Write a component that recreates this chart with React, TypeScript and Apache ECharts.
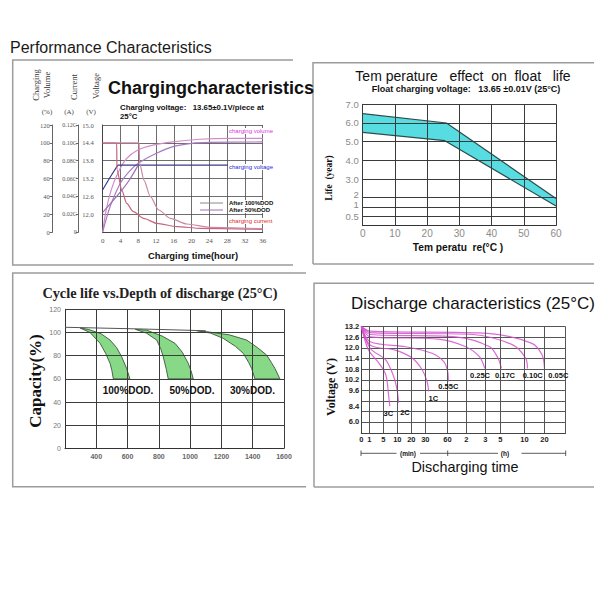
import React, { useEffect, useRef } from 'react';
import * as echarts from 'echarts';

// ================= Panel 1: Charging characteristics =================
// [hour, value]
const CHG_VOLUME_A = [[0, 0], [0.75, 24], [1.9, 47], [3.4, 66], [5.3, 82], [7.9, 92], [11.3, 97.5], [15.8, 101], [21.8, 104], [29, 105], [36, 105]];
const CHG_VOLUME_B = [[0, 0], [1, 18], [2, 33], [4, 55], [6, 68], [8, 77], [12, 88], [16, 96], [20, 99.5], [24, 100.5], [36, 101]];
const CHG_VOLTAGE_50 = [[0, 12.82], [1.7, 13.25], [3.4, 13.65], [36, 13.65]];
const CHG_VOLTAGE_100 = [[0, 12.06], [2, 12.4], [4, 12.75], [6, 13.15], [8, 13.65]];
const CHG_CURRENT_50 = [[0, 0.1], [3.15, 0.1], [3.2, 0.07], [4.3, 0.047], [5.4, 0.032], [6.9, 0.0228], [9.2, 0.0153], [12.2, 0.0097], [16.7, 0.006], [22, 0.0041], [36, 0.003]];
const CHG_CURRENT_100 = [[0, 0.1], [8.2, 0.1], [8.3, 0.077], [9.3, 0.058], [10.7, 0.04], [12.6, 0.0247], [15.2, 0.0153], [18.9, 0.009], [24.2, 0.0052], [36, 0.0037]];

// ================= Panel 2: Temperature effect on float life =================
// [temperature °C, life years]
const LIFE_UPPER = [[0, 6.5], [26, 6.0], [60, 1.9]];
const LIFE_LOWER = [[0, 5.5], [25.5, 5.05], [60, 1.1]];
const LIFE_TICKS = [0, 0.5, 1, 2, 3, 4, 5, 6, 7];
const LIFE_POS = [0, 1, 2, 3, 5, 7, 9, 11, 13];
const LIFE_GRID_POS = [1, 2, 3, 5, 7, 9, 11, 13];
const LIFE_LABEL_POS = [0.96, 2.29, 3.36, 5, 7, 9, 11, 13];
const LIFE_LABELS = ['0.5', '1', '2', '3.0', '4.0', '5.0', '6.0', '7.0'];
const TEMP_GRID = [0, 10, 20, 30, 40, 50, 60];

// ================= Panel 3: Cycle life vs depth of discharge =================
// [cycles, capacity %]
const CYCLE_TOP = [[200, 104.5], [700, 103], [1100, 101.5]];
const BAND100_LEFT = [[296, 103.9], [360, 100], [424, 90.7], [460, 82], [488, 73.4], [500, 67], [509, 60]];
const BAND100_RIGHT = [[349, 102.7], [430, 99], [488, 93.5], [530, 87], [562, 79.1], [594, 69], [615, 60]];
const BAND50_LEFT = [[650, 102.7], [720, 99.5], [786, 93.5], [812, 86], [828, 79.1], [848, 68], [860, 60]];
const BAND50_RIGHT = [[722, 102], [820, 97], [903, 90.7], [950, 83], [988, 73.4], [1008, 66], [1020, 60]];
const BAND30_LEFT = [[1041, 101.6], [1130, 99.5], [1211, 95], [1290, 88], [1339, 82.1], [1375, 74], [1393, 69], [1414, 60]];
const BAND30_RIGHT = [[1105, 100.7], [1250, 98], [1361, 93.5], [1430, 87], [1489, 80.6], [1520, 74], [1542, 69], [1574, 60]];
const CYCLE_X_GRID = [400, 600, 800, 1000, 1200, 1400, 1600];
const CAP_Y_GRID = [20, 40, 60, 80, 100, 120];

// ================= Panel 4: Discharge characteristics =================
// [minutes, volts]
const DIS_3C = [[0, 13.2], [0.9, 11.87], [3.8, 11.12], [5.9, 10.47], [7.0, 9.05], [7.3, 8.45]];
const DIS_2C = [[0, 13.2], [1.3, 11.96], [5.9, 11.31], [8.7, 10.38], [9.9, 9.63], [10.9, 8.7]];
const DIS_1C = [[0, 13.2], [1.3, 12.15], [9.3, 11.87], [21, 11.4], [27.8, 10.75], [32.3, 10.1], [34.5, 9.53]];
const DIS_055C = [[0, 13.2], [1.3, 12.34], [16, 12.06], [39, 11.69], [55, 11.22], [61, 10.66], [63, 10.1]];
const DIS_025C = [[0, 13.2], [1.3, 12.62], [48, 12.49], [118, 12.06], [161, 11.5], [178, 10.84]];
const DIS_017C = [[0, 13.2], [1.3, 12.75], [86, 12.62], [214, 12.06], [282, 11.4], [312, 10.84]];
const DIS_010C = [[0, 13.2], [1.3, 12.86], [140, 12.75], [459, 12.15], [640, 11.4], [690, 10.84]];
const DIS_005C = [[0, 13.2], [1.3, 12.94], [200, 12.81], [822, 12.25], [1131, 11.59], [1200, 10.84]];
const TIME_TICKS = [0, 1, 5, 10, 20, 30, 60, 120, 180, 300, 600, 1200, 2400];
const TIME_POS = [0, 8, 22, 36, 50, 64, 86, 105, 124, 139, 163, 183, 204];
const TIME_LABELS = ['0', '1', '5', '10', '20', '30', '60', '2', '3', '5', '10', '20'];
const VOLT_TICKS = [6.0, 8.4, 9.6, 10.2, 10.8, 11.4, 12.0, 12.6, 13.2];
const VOLT_POS = [1.1, 2.45, 4, 5, 6, 7, 8, 9, 10];

const SERIF = '"Liberation Serif", "DejaVu Serif", serif';
const SANS = '"Liberation Sans", Arial, sans-serif';

function interp(v: number, xs: number[], ys: number[]) {
  const n = xs.length;
  let i = 1;
  while (i < n - 1 && v > xs[i]) i++;
  return ys[i - 1] + ((v - xs[i - 1]) * (ys[i] - ys[i - 1])) / (xs[i] - xs[i - 1]);
}
const lifePos = (v: number) => interp(v, LIFE_TICKS, LIFE_POS);
const timePos = (v: number) => interp(v, TIME_TICKS, TIME_POS);
const voltPos = (v: number) => interp(v, VOLT_TICKS, VOLT_POS);

function T(x: number, y: number, text: string, o: any = {}) {
  const style: any = {
    text,
    fontSize: o.size || 10,
    fontFamily: o.family || SANS,
    fontWeight: o.weight || 'normal',
    fill: o.color || '#111',
    align: o.align || 'center',
    verticalAlign: 'middle',
  };
  if (o.bg) {
    style.backgroundColor = o.bg;
    style.padding = [0, 1];
  }
  return { type: 'text', x, y, rotation: o.rotation || 0, z: 100, style };
}
function L(points: number[][], color = '#9c9c9c', width = 1.5) {
  return { type: 'polyline', z: 100, shape: { points }, style: { stroke: color, lineWidth: width, fill: null } };
}

function lineSeries(name: string, xi: number, yi: number, data: number[][], color: string, extra: any = {}) {
  return {
    name,
    type: 'line',
    xAxisIndex: xi,
    yAxisIndex: yi,
    data,
    symbol: 'none',
    showSymbol: false,
    lineStyle: { color, width: 1.2 },
    itemStyle: { color },
    z: 3,
    ...extra,
  };
}

function gridMark(data: any[], color: string, width = 1) {
  return {
    symbol: ['none', 'none'],
    silent: true,
    label: { show: false },
    emphasis: { disabled: true },
    lineStyle: { color, width, type: 'solid' },
    data,
  };
}

function bandsSeries(xi: number, yi: number, bands: { a: number[][]; b: number[][] }[], mapY: (v: number) => number, fill: string, stroke: string) {
  return {
    type: 'custom',
    xAxisIndex: xi,
    yAxisIndex: yi,
    z: 1,
    silent: true,
    data: [[bands[0].a[0][0], mapY(bands[0].a[0][1])]],
    renderItem: (params: any, api: any) => {
      if (params.dataIndex !== 0) return null;
      const children = bands.map((bd) => {
        const pts = [
          ...bd.a.map((p) => api.coord([p[0], mapY(p[1])])),
          ...bd.b.slice().reverse().map((p) => api.coord([p[0], mapY(p[1])])),
        ];
        return { type: 'polygon', shape: { points: pts }, style: { fill, stroke, lineWidth: 0.9 } };
      });
      return { type: 'group', children };
    },
  };
}

export default function App() {
  const ref = useRef<HTMLDivElement>(null);
  useEffect(() => {
    if (!ref.current) return;
    const chart = echarts.init(ref.current, undefined, { renderer: 'svg' });

    const mapP4 = (arr: number[][]) => arr.map(([t, v]) => [timePos(t), voltPos(v)]);
    const p4Color = 'rgba(214,80,206,0.85)';

    const option: any = {
      animation: false,
      grid: [
        { left: 102.7, top: 125, width: 160, height: 107, outerBoundsMode: 'none' },
        { left: 362.7, top: 104.3, width: 193.3, height: 121.4, outerBoundsMode: 'none' },
        { left: 65, top: 309.3, width: 219, height: 139.2, outerBoundsMode: 'none' },
        { left: 361.3, top: 326.5, width: 204.2, height: 106.5, outerBoundsMode: 'none' },
      ],
      xAxis: [
        {
          gridIndex: 0, type: 'value', min: 0, max: 36, interval: 4,
          axisLine: { lineStyle: { color: '#444' } }, axisTick: { show: false },
          axisLabel: { fontSize: 7, fontFamily: SERIF, color: '#555', margin: 5 },
          splitLine: { show: true, lineStyle: { color: '#4a4a4a', width: 0.8 } },
        },
        {
          gridIndex: 1, type: 'value', min: 0, max: 60, interval: 10,
          axisLine: { lineStyle: { color: '#333' } }, axisTick: { show: false },
          axisLabel: { fontSize: 10, fontFamily: SANS, color: '#8a8a8a', margin: 3 },
          splitLine: { show: false },
        },
        {
          gridIndex: 2, type: 'value', min: 200, max: 1600, interval: 200,
          axisLine: { lineStyle: { color: '#333' } }, axisTick: { show: false },
          axisLabel: { fontSize: 7, fontFamily: SANS, fontWeight: 'bold', color: '#666', margin: 4, formatter: (v: number) => (v === 200 ? '' : String(v)) },
          splitLine: { show: false },
        },
        {
          gridIndex: 3, type: 'value', min: 0, max: 204,
          axisLine: { lineStyle: { color: '#444' } }, axisTick: { show: false },
          axisLabel: {
            fontSize: 7.5, fontFamily: SANS, fontWeight: 'bold', color: '#222', margin: 2,
            customValues: TIME_POS.slice(0, 12),
            formatter: (v: number) => {
              const i = TIME_POS.indexOf(v);
              return i >= 0 && i < TIME_LABELS.length ? TIME_LABELS[i] : '';
            },
          },
          splitLine: { show: false },
        },
      ],
      yAxis: [
        {
          gridIndex: 0, type: 'value', position: 'left', offset: 0, min: 11.4, max: 15, interval: 0.6,
          axisLine: { show: true, lineStyle: { color: '#444' } }, axisTick: { show: false },
          axisLabel: { fontSize: 6.5, fontFamily: SERIF, color: '#555', margin: 9, formatter: (v: number) => (Math.abs(v - 11.4) < 0.01 ? '' : v.toFixed(1)) },
          splitLine: { show: false },
        },
        {
          gridIndex: 0, type: 'value', position: 'left', offset: 24, min: 0, max: 0.12, interval: 0.02,
          axisLine: { show: true, lineStyle: { color: '#666' } }, axisTick: { show: true, length: 3, lineStyle: { color: '#666' } },
          axisLabel: { fontSize: 6, fontFamily: SERIF, color: '#555', margin: 2, formatter: (v: number) => (v === 0 ? '0' : v.toFixed(2) + 'C') },
          splitLine: { show: false },
        },
        {
          gridIndex: 0, type: 'value', position: 'left', offset: 50, min: 0, max: 120, interval: 20,
          axisLine: { show: true, lineStyle: { color: '#666' } }, axisTick: { show: true, length: 3, lineStyle: { color: '#666' } },
          axisLabel: { fontSize: 6.5, fontFamily: SERIF, color: '#555', margin: 3 },
          splitLine: { show: true, lineStyle: { color: '#4a4a4a', width: 0.8 } },
        },
        {
          gridIndex: 1, type: 'value', min: 0, max: 13,
          axisLine: { show: true, lineStyle: { color: '#333' } }, axisTick: { show: false },
          axisLabel: {
            fontSize: 9.5, fontFamily: SANS, color: '#8a8a8a', margin: 4,
            customValues: LIFE_LABEL_POS,
            formatter: (v: number) => {
              const i = LIFE_LABEL_POS.findIndex((p) => Math.abs(p - v) < 1e-6);
              return i >= 0 ? LIFE_LABELS[i] : '';
            },
          },
          splitLine: { show: false },
        },
        {
          gridIndex: 2, type: 'value', min: 0, max: 120, interval: 20,
          axisLine: { show: true, lineStyle: { color: '#333' } }, axisTick: { show: false },
          axisLabel: { fontSize: 7, fontFamily: SANS, color: '#777', margin: 4 },
          splitLine: { show: false },
        },
        {
          gridIndex: 3, type: 'value', min: 0, max: 10, interval: 1,
          axisLine: { show: true, lineStyle: { color: '#444' } }, axisTick: { show: false },
          axisLabel: {
            fontSize: 7.5, fontFamily: SANS, fontWeight: 'bold', color: '#222', margin: 2,
            customValues: VOLT_POS.slice().reverse(),
            formatter: (v: number) => {
              const i = VOLT_POS.findIndex((p) => Math.abs(p - v) < 1e-6);
              return i >= 0 ? VOLT_TICKS[i].toFixed(1) : '';
            },
          },
          splitLine: { show: true, lineStyle: { color: '#555', width: 1 } },
        },
      ],
      series: [
        // Panel 1
        lineSeries('Charging volume A', 0, 2, CHG_VOLUME_A, '#d58bc8', { smooth: 0.3 }),
        lineSeries('Charging volume B', 0, 2, CHG_VOLUME_B, '#a67cc0', { smooth: 0.3 }),
        lineSeries('Charging voltage 50', 0, 0, CHG_VOLTAGE_50, '#3a3a8c'),
        lineSeries('Charging voltage 100', 0, 0, CHG_VOLTAGE_100, '#9b70b4', { smooth: 0.2 }),
        lineSeries('Charging current 50', 0, 1, CHG_CURRENT_50, '#c8647e', { smooth: 0.25, smoothMonotone: 'x' }),
        lineSeries('Charging current 100', 0, 1, CHG_CURRENT_100, '#cc8aa2', { smooth: 0.25, smoothMonotone: 'x' }),
        // Panel 2
        bandsSeries(1, 3, [{ a: LIFE_UPPER, b: LIFE_LOWER }], lifePos, '#57dde1', 'rgba(0,0,0,0)'),
        lineSeries('Life upper', 1, 3, LIFE_UPPER.map(([t, v]) => [t, lifePos(v)]), '#2e4c4c', {
          markLine: gridMark([
            ...LIFE_GRID_POS.map((p) => ({ yAxis: p })),
            ...TEMP_GRID.map((t) => ({ xAxis: t })),
          ], '#3a3a3a', 1),
        }),
        lineSeries('Life lower', 1, 3, LIFE_LOWER.map(([t, v]) => [t, lifePos(v)]), '#2e4c4c'),
        // Panel 3
        bandsSeries(2, 4, [
          { a: BAND100_LEFT, b: BAND100_RIGHT },
          { a: BAND50_LEFT, b: BAND50_RIGHT },
          { a: BAND30_LEFT, b: BAND30_RIGHT },
        ], (v) => v, '#87d987', '#3a553a'),
        lineSeries('Cycle top', 2, 4, CYCLE_TOP, '#555', {
          lineStyle: { color: '#555', width: 1 },
          markLine: gridMark([
            ...CAP_Y_GRID.map((p) => ({ yAxis: p })),
            ...CYCLE_X_GRID.map((c) => ({ xAxis: c })),
          ], '#3c3c3c', 1),
        }),
        // Panel 4
        lineSeries('3C', 3, 5, mapP4(DIS_3C), p4Color, {
          smooth: 0.3,
          markLine: gridMark(TIME_POS.slice(1).map((p) => ({ xAxis: p })), '#555', 1),
        }),
        lineSeries('2C', 3, 5, mapP4(DIS_2C), p4Color, { smooth: 0.3 }),
        lineSeries('1C', 3, 5, mapP4(DIS_1C), p4Color, { smooth: 0.3 }),
        lineSeries('0.55C', 3, 5, mapP4(DIS_055C), p4Color, { smooth: 0.3 }),
        lineSeries('0.25C', 3, 5, mapP4(DIS_025C), p4Color, { smooth: 0.3 }),
        lineSeries('0.17C', 3, 5, mapP4(DIS_017C), p4Color, { smooth: 0.3 }),
        lineSeries('0.10C', 3, 5, mapP4(DIS_010C), p4Color, { smooth: 0.3 }),
        lineSeries('0.05C', 3, 5, mapP4(DIS_005C), p4Color, { smooth: 0.3 }),
      ],
      graphic: [
        // frames
        L([[293, 60], [12.7, 60], [12.7, 265], [293, 265]]),
        L([[313, 264], [313, 62.7], [594, 62.7]]),
        L([[313, 264], [594, 264]]),
        L([[306, 273], [12.7, 273], [12.7, 486.7], [306, 486.7]]),
        L([[314, 487], [314, 283.3], [594, 283.3]]),
        L([[314, 487], [594, 487]]),

        T(10, 47, 'Performance Characteristics', { size: 16, align: 'left', color: '#1a1a1a' }),

        // Panel 1
        T(108, 88, 'Chargingcharacteristics', { size: 18, weight: 'bold', align: 'left' }),
        T(120, 107, 'Charging voltage:   13.65±0.1V/piece at', { size: 7.8, weight: 'bold', align: 'left' }),
        T(120, 116, '25°C', { size: 7.8, weight: 'bold', align: 'left' }),
        T(36, 85, 'Charging', { size: 8.5, family: SERIF, color: '#333', rotation: Math.PI / 2 }),
        T(47, 85, 'Volume', { size: 8.5, family: SERIF, color: '#333', rotation: Math.PI / 2 }),
        T(74, 87, 'Current', { size: 8.5, family: SERIF, color: '#333', rotation: Math.PI / 2 }),
        T(96, 86, 'Voltage', { size: 8.5, family: SERIF, color: '#333', rotation: Math.PI / 2 }),
        T(47, 111.5, '(%)', { size: 7, family: SERIF, color: '#444' }),
        T(69, 111.5, '(A)', { size: 7, family: SERIF, color: '#444' }),
        T(91, 111.5, '(V)', { size: 7, family: SERIF, color: '#444' }),
        T(193, 255, 'Charging time(hour)', { size: 9.4, weight: 'bold' }),
        T(228, 131, 'charging volume', { size: 6, color: '#e030e0', align: 'left', bg: '#fff' }),
        T(228, 167, 'charging voltage', { size: 6, color: '#2a2ad8', align: 'left', bg: '#fff' }),
        L([[200, 203], [223, 203]], '#8a8a8a', 1),
        L([[200, 210], [223, 210]], '#a070b0', 1),
        T(228, 203, 'After 100%DOD', { size: 6, weight: 'bold', align: 'left', bg: '#fff' }),
        T(228, 210, 'After 50%DOD', { size: 6, weight: 'bold', align: 'left', bg: '#fff' }),
        T(228, 221, 'charging current', { size: 6, color: '#e02a2a', align: 'left', bg: '#fff' }),

        // Panel 2
        T(463, 76, 'Tem perature   effect  on  float   life', { size: 14, color: '#111' }),
        T(466, 89, 'Float charging voltage:   13.65 ±0.01V (25°C)', { size: 9, weight: 'bold' }),
        T(329, 178, 'Life  (year)', { size: 9.5, weight: 'bold', family: SERIF, rotation: Math.PI / 2 }),
        T(458, 247, 'Tem peratu  re(°C )', { size: 10.2, weight: 'bold' }),

        // Panel 3
        T(160, 293, 'Cycle life vs.Depth of discharge (25°C)', { size: 14.3, weight: 'bold', family: SERIF, color: '#222' }),
        T(35, 381, 'Capacity(%)', { size: 17, weight: 'bold', family: SERIF, rotation: Math.PI / 2 }),
        T(128, 390, '100%DOD.', { size: 10, weight: 'bold' }),
        T(192, 390, '50%DOD.', { size: 10, weight: 'bold' }),
        T(252.5, 390, '30%DOD.', { size: 10, weight: 'bold' }),

        // Panel 4
        T(473, 303, 'Discharge characteristics (25°C)', { size: 17 }),
        T(331, 387, 'Voltage (V)', { size: 12, weight: 'bold', family: SERIF, rotation: Math.PI / 2 }),
        T(388.3, 413, '3C', { size: 7.5, weight: 'bold' }),
        T(405, 412.3, '2C', { size: 7.5, weight: 'bold' }),
        T(433.3, 398, '1C', { size: 7.5, weight: 'bold' }),
        T(448.3, 386.3, '0.55C', { size: 7.5, weight: 'bold' }),
        T(480, 375.3, '0.25C', { size: 7.5, weight: 'bold' }),
        T(505, 375.3, '0.17C', { size: 7.5, weight: 'bold' }),
        T(532.7, 375.3, '0.10C', { size: 7.5, weight: 'bold' }),
        T(558.3, 375.3, '0.05C', { size: 7.5, weight: 'bold' }),
        L([[361, 453.3], [396.5, 453.3]], '#333', 0.8),
        L([[420, 453.3], [498, 453.3]], '#333', 0.8),
        L([[521.5, 453.3], [565.7, 453.3]], '#333', 0.8),
        L([[361, 450.5], [361, 456]], '#333', 0.8),
        L([[447.7, 450.5], [447.7, 456]], '#333', 0.8),
        L([[565.7, 450.5], [565.7, 456]], '#333', 0.8),
        T(408, 453.3, '(min)', { size: 6.5, weight: 'bold' }),
        T(505, 453.3, '(h)', { size: 6.5, weight: 'bold' }),
        T(465, 467, 'Discharging time', { size: 14.4 }),
      ],
    };

    chart.setOption(option);
    return () => chart.dispose();
  }, []);

  return <div ref={ref} style={{ position: 'absolute', left: 0, top: 0, width: 600, height: 600, background: '#fff' }} />;
}
